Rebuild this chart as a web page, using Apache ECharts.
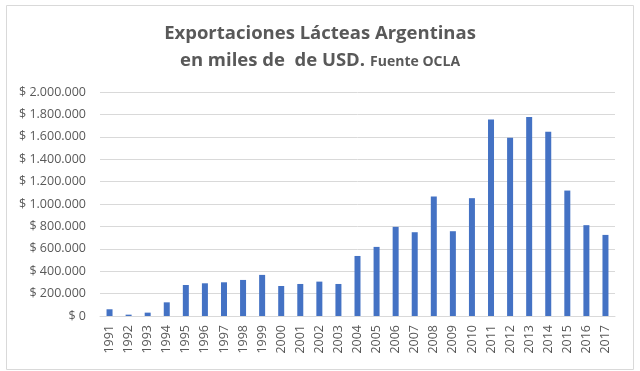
<!DOCTYPE html>
<html>
<head>
<meta charset="utf-8">
<script src="https://cdn.jsdelivr.net/npm/echarts@6/dist/echarts.min.js"></script>
<style>html,body{margin:0;padding:0;background:#fff}#c{width:640px;height:371px}</style>
</head>
<body>
<div id="c"></div>
<script>
const years = ['1991','1992','1993','1994','1995','1996','1997','1998','1999','2000','2001','2002','2003','2004','2005','2006','2007','2008','2009','2010','2011','2012','2013','2014','2015','2016','2017'];
const exportsValues = [60000,12000,30000,122000,277000,292000,301000,322000,367000,268000,286000,307000,286000,536000,617000,796000,748000,1067000,757000,1052000,1755000,1592000,1777000,1645000,1120000,811000,724000];
const titleLine1 = 'Exportaciones Lácteas Argentinas';
const titleLine2 = 'en miles de  de USD.';
const titleSource = 'Fuente OCLA';

function fmt(v){
  if (v === 0) return '$ 0';
  return '$ ' + String(v).replace(/\B(?=(\d{3})+(?!\d))/g, '.');
}

const chart = echarts.init(document.getElementById('c'), null, {renderer:'canvas'});
chart.setOption({
  animation:false,
  graphic:[
    {type:'rect', shape:{x:6.5,y:5.5,width:627,height:364}, style:{fill:'none', stroke:'#d9d9d9', lineWidth:1}, silent:true}
  ],
  title:[
    {text:titleLine1, left:'center', top:19, textStyle:{fontFamily:'Open Sans', fontWeight:'bold', fontSize:18.5, color:'#595959'}},
    {text:'{a|' + titleLine2 + '} {b|' + titleSource + '}', left:'center', top:46,
     textStyle:{rich:{
       a:{fontFamily:'Open Sans', fontWeight:'bold', fontSize:18.5, color:'#595959'},
       b:{fontFamily:'Open Sans', fontWeight:'bold', fontSize:14, color:'#595959', padding:[3,0,0,0]}
     }}}
  ],
  grid:{left:100, right:25, top:92, bottom:55, containLabel:false},
  xAxis:{
    type:'category', data:years,
    axisLine:{lineStyle:{color:'#d9d9d9'}},
    axisTick:{show:false},
    axisLabel:{rotate:90, color:'#595959', fontFamily:'Open Sans', fontSize:12.5, margin:9, interval:0}
  },
  yAxis:{
    type:'value', min:0, max:2000000, interval:200000,
    axisLine:{show:false}, axisTick:{show:false},
    splitLine:{lineStyle:{color:'#d9d9d9'}},
    axisLabel:{formatter:fmt, color:'#595959', fontFamily:'Open Sans', fontSize:12.5, margin:14}
  },
  series:[{
    type:'bar', data:exportsValues, barWidth:6,
    itemStyle:{color:'#4472C4'}
  }]
});
</script>
</body>
</html>
